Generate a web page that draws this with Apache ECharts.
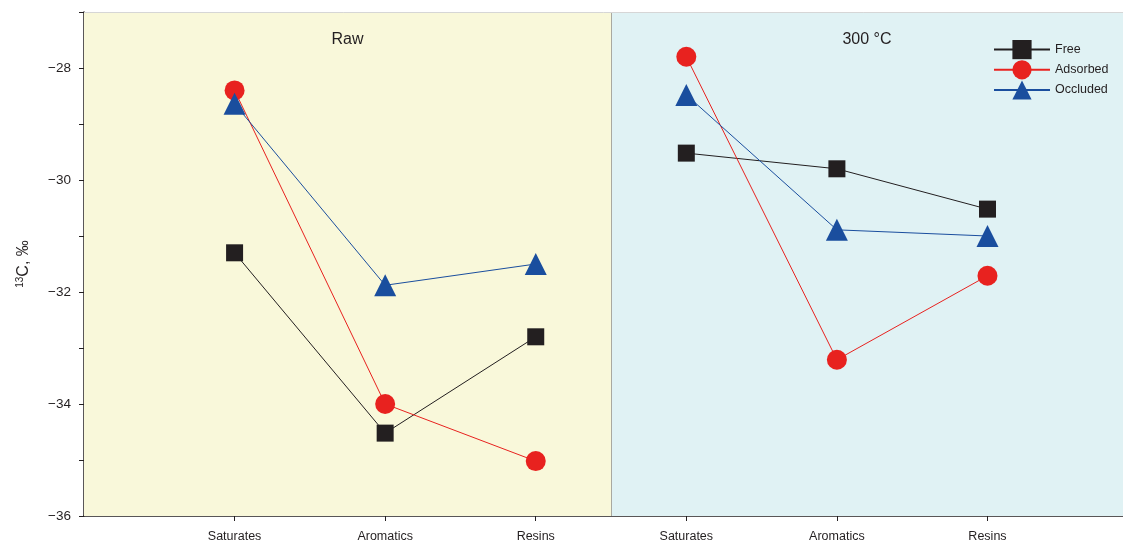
<!DOCTYPE html>
<html>
<head>
<meta charset="utf-8">
<script src="https://cdn.jsdelivr.net/npm/echarts@6/dist/echarts.min.js"></script>
<style>
  html, body { margin: 0; padding: 0; background: #fff; }
  #chart { width: 1123px; height: 544px; }
</style>
</head>
<body>
<div id="chart"></div>
<script>
var categories = ['Saturates', 'Aromatics', 'Resins', 'Saturates', 'Aromatics', 'Resins'];
var panels = ['Raw', '300 °C'];
var yTicks = [-36, -34, -32, -30, -28];

// d13C values, first three = Raw, last three = 300 °C
var freeVals     = [-31.3, -34.52, -32.8, -29.52, -29.8, -30.52];
var adsorbedVals = [-28.4, -34.0, -35.02, -27.8, -33.21, -31.71];
var occludedVals = [-28.64, -31.88, -31.5, -28.48, -30.89, -31.0];

var ink = '#231f20';
var font = 'Liberation Sans';

function pts(vals, from, to) {
    var out = [];
    for (var i = from; i < to; i++) out.push([i + 1, vals[i]]);
    return out;
}

function makeSeries(name, vals, color, symbol, size) {
    return [0, 3].map(function (start) {
        return {
            name: name,
            type: 'line',
            data: pts(vals, start, start + 3),
            symbol: symbol,
            symbolSize: size,
            itemStyle: { color: color },
            lineStyle: { color: color, width: 1 },
            z: 5
        };
    });
}

var series = [].concat(
    makeSeries('Free', freeVals, ink, 'rect', 17),
    makeSeries('Adsorbed', adsorbedVals, '#e8221f', 'circle', 20),
    makeSeries('Occluded', occludedVals, '#1a4e9e', 'triangle', 22)
);

// background panels
series.push({
    type: 'line',
    data: [],
    silent: true,
    markArea: {
        silent: true,
        label: {
            position: 'insideTop', distance: 20,
            fontFamily: font, fontSize: 16, color: ink
        },
        data: [
            [{ name: panels[0], xAxis: 0, itemStyle: { color: '#f9f8da' } }, { xAxis: 3.5 }],
            [{ name: panels[1], xAxis: 3.5, itemStyle: { color: '#e0f2f4' } }, { xAxis: 6.9 }]
        ]
    },
    markLine: {
        silent: true,
        symbol: 'none',
        label: { show: false },
        data: [
            { xAxis: 3.5, lineStyle: { color: '#a9a9a0', width: 1, type: 'solid' } },
            { yAxis: -27, lineStyle: { color: '#d6d6d6', width: 1, type: 'solid' } }
        ]
    },
    z: 1
});

var chart = echarts.init(document.getElementById('chart'));
chart.setOption({
    animation: false,
    textStyle: { fontFamily: font },
    grid: { left: 84, right: 0, top: 12, bottom: 28 },
    legend: {
        orient: 'vertical',
        left: 988, top: 35,
        itemWidth: 56, itemHeight: 24, itemGap: 1,
        textStyle: { fontFamily: font, fontSize: 12.5, color: ink },
        data: ['Free', 'Adsorbed', 'Occluded']
    },
    xAxis: {
        type: 'value',
        min: 0, max: 6.9, interval: 1,
        splitLine: { show: false },
        axisLine: { lineStyle: { color: ink, width: 1.5 } },
        axisTick: {
            customValues: categories.map(function (c, i) { return i + 1; }),
            length: 5, lineStyle: { color: ink }
        },
        axisLabel: {
            customValues: categories.map(function (c, i) { return i + 1; }),
            formatter: function (v) { return categories[v - 1] || ''; },
            fontFamily: font, fontSize: 12.5, color: ink, margin: 14
        }
    },
    yAxis: {
        type: 'value',
        min: -36, max: -27, interval: 2,
        name: '{sup|13}{n|C, ‰}',
        nameLocation: 'middle',
        nameGap: 52,
        nameRotate: 90,
        nameTextStyle: {
            rich: {
                sup: { fontFamily: font, fontSize: 10, color: ink, verticalAlign: 'top', padding: [0, 0, 7, 0] },
                n: { fontFamily: font, fontSize: 16, color: ink }
            }
        },
        splitLine: { show: false },
        axisLine: { show: true, lineStyle: { color: ink, width: 1.5 } },
        axisTick: { show: true, length: 5, lineStyle: { color: ink } },
        minorTick: { show: true, splitNumber: 2, length: 5, lineStyle: { color: ink } },
        axisLabel: {
            customValues: yTicks,
            formatter: function (v) { return String(v).replace('-', '\u2212'); },
            fontFamily: font, fontSize: 13.5, color: ink, margin: 13
        }
    },
    series: series
});
</script>
</body>
</html>
